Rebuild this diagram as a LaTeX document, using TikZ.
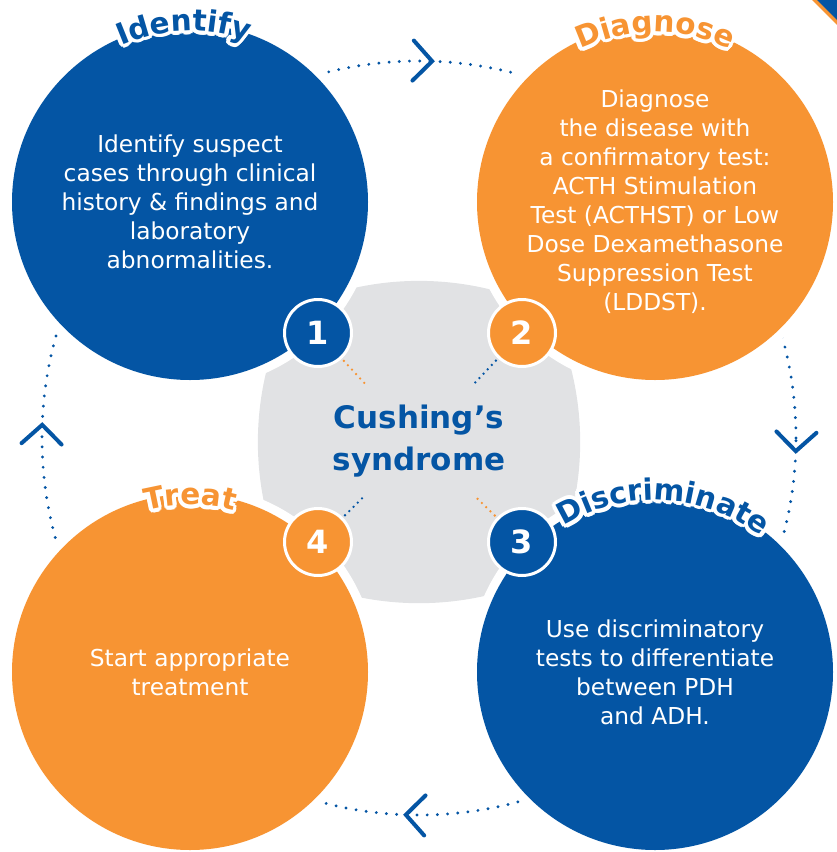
\documentclass[tikz,border=0pt]{standalone}
\usepackage{fontspec}
\setmainfont{DejaVu Sans}
\usetikzlibrary{decorations.text}

\definecolor{cblue}{HTML}{0455A4}
\definecolor{corange}{HTML}{F79433}
\definecolor{chub}{HTML}{E1E2E4}

\newcommand{\titlefont}{\fontsize{29.5}{29.5}\selectfont\bfseries}
% curved heading with a white rim along the top of a step circle
% #1 node, #2 radius, #3 middle angle, #4 colour, #5 text
\newcommand{\arctitle}[5]{%
  \foreach \ang in {0,22.5,...,337.5}
    \path[decorate, decoration={text along path, text align=center,
        text={|\titlefont\color{white}|#5}}]
      ([shift={(\ang:3.8)}]#1) ++({#3+60}:#2) arc[start angle={#3+60}, end angle={#3-60}, radius=#2];
  \path[decorate, decoration={text along path, text align=center,
      text={|\titlefont\color{#4}|#5}}]
    (#1) ++({#3+60}:#2) arc[start angle={#3+60}, end angle={#3-60}, radius=#2];}

\begin{document}
\begin{tikzpicture}[x=1pt, y=1pt,
  bubble/.style={circle, minimum size=356pt, inner sep=0pt, text=white, align=center, font=\fontsize{23.3}{29}\selectfont, preaction={draw=white, line width=18pt}},
  badge/.style={circle, minimum size=67pt, inner sep=0pt, draw=white, line width=3pt, text=white, font=\fontsize{32}{32}\selectfont\bfseries},
  ring/.style={cblue, line width=3.2pt, line cap=round, dash pattern=on 0pt off 10.2pt},
  chevron/.style={cblue, line width=4pt, line cap=round},
  spoke/.style={line width=2.6pt, line cap=round, dash pattern=on 0pt off 6pt, shorten <=3pt, shorten >=76pt}]
\useasboundingbox (0,0) rectangle (837,-852);
\coordinate (hub) at (419,-442);
\coordinate (orbit) at (419,-438);

% grey cushion in the middle, four bulging sides
\fill[chub] (hub) ++(-131,131) arc[start angle=115.9, end angle=64.1, radius=300]
  arc[start angle=25.9, end angle=-25.9, radius=300]
  arc[start angle=-64.1, end angle=-115.9, radius=300]
  arc[start angle=205.9, end angle=154.1, radius=300] -- cycle;

% dotted loop round the four steps
\draw[ring] (orbit) circle[radius=377];
\foreach \a in {88,-2,-92,178}
  \draw[chevron, shift={(orbit)}, rotate=\a] (397,19) -- (377,0) -- (357,19);

% corner mark
\fill[corange] (812,0) -- (837,0) -- (837,-25) -- cycle;
\fill[cblue] (817,0) -- (837,0) -- (837,-20) -- cycle;

% the four steps
\node[bubble, fill=cblue] (identify) at (190,-202) {Identify suspect\\cases through clinical\\history \& findings and\\laboratory\\abnormalities.};
\node[bubble, fill=corange] (diagnose) at (655,-202) {Diagnose\\the disease with\\a confirmatory test:\\ACTH Stimulation\\Test (ACTHST) or Low\\Dose Dexamethasone\\Suppression Test\\(LDDST).};
\node[bubble, fill=cblue] (discriminate) at (655,-672) {Use discriminatory\\tests to differentiate\\between PDH\\and ADH.};
\node[bubble, fill=corange] (treat) at (190,-672) {Start appropriate\\treatment};

\arctitle{identify}{171}{92}{cblue}{Identify}
\arctitle{diagnose}{170}{90}{corange}{Diagnose}
\arctitle{discriminate}{172}{87}{cblue}{Discriminate}
\arctitle{treat}{167}{90}{corange}{Treat}

% numbered badges
\node[badge, fill=cblue] (n1) at (318,-333) {1};
\node[badge, fill=corange] (n2) at (522,-333) {2};
\node[badge, fill=cblue] (n3) at (522,-542) {3};
\node[badge, fill=corange] (n4) at (318,-542) {4};
\foreach \n/\col in {n1/corange, n2/cblue, n3/corange, n4/cblue}
  \draw[spoke, \col] (\n) -- (hub);

\node[font=\fontsize{31}{42}\selectfont\bfseries, text=cblue, align=center] (name) at (419,-441) {Cushing’s\\syndrome};
\end{tikzpicture}
\end{document}
